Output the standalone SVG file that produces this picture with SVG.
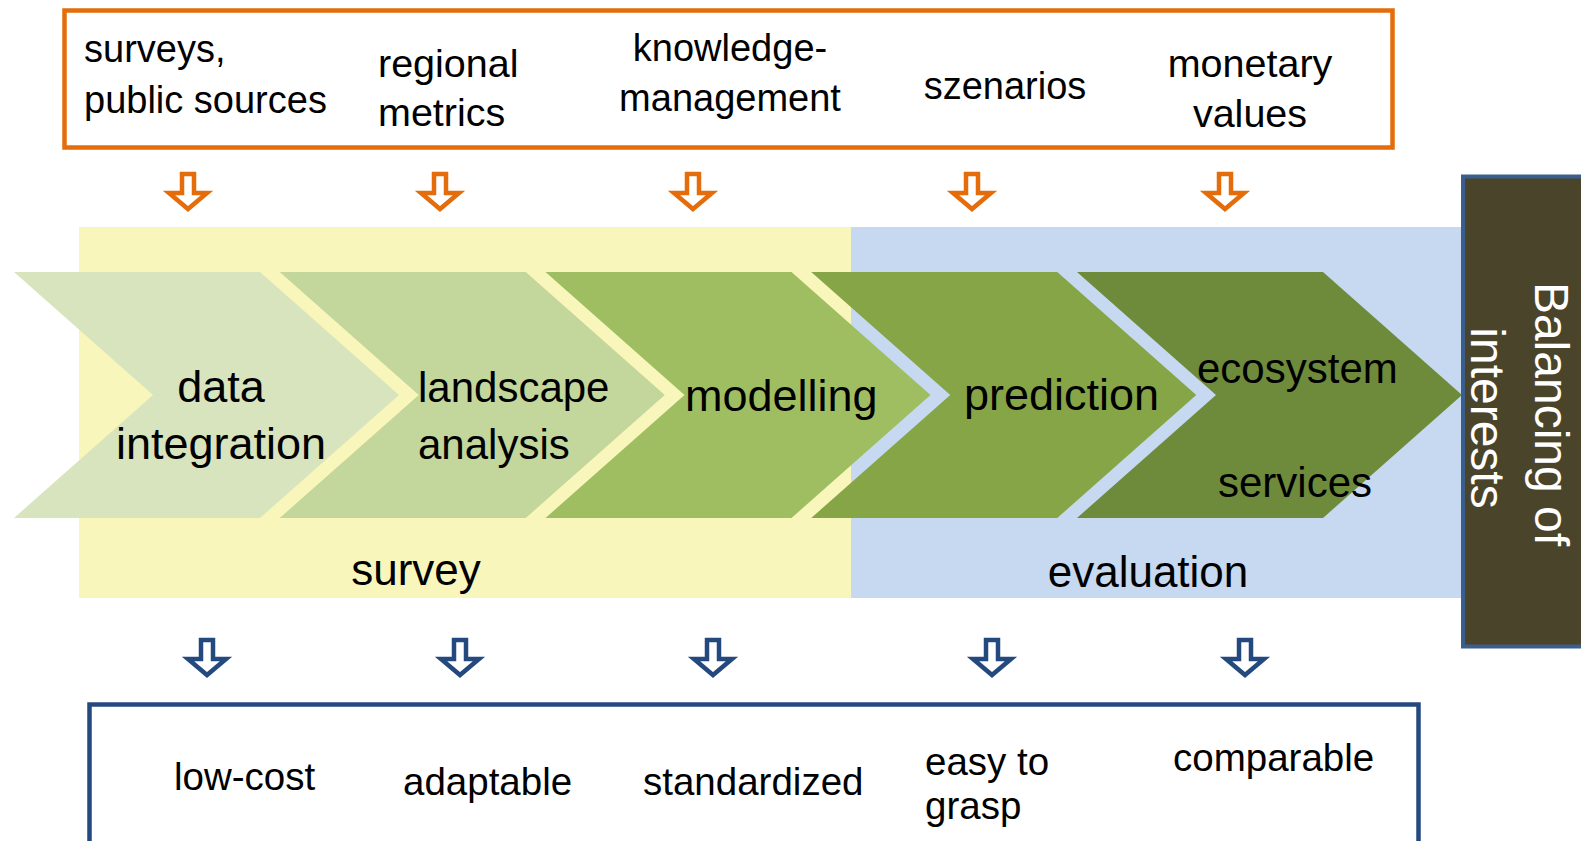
<svg xmlns="http://www.w3.org/2000/svg" width="1581" height="841" viewBox="0 0 1581 841">
<defs>
<style>
.t{font-family:"Liberation Sans",Arial,sans-serif;fill:#000;}
.top{font-size:38px;}
.top2{font-size:39.5px;}
.chv{font-size:45px;}
.chs{font-size:42px;}
.bnd{font-size:44px;}
.bot{font-size:38.5px;}
.oa{fill:#fff;stroke:#E46C0A;stroke-width:4.5;stroke-linejoin:miter;}
.ba{fill:#fff;stroke:#24497F;stroke-width:4.5;stroke-linejoin:miter;}
.bal{font-family:"Liberation Sans",Arial,sans-serif;font-size:48px;fill:#fff;}
</style>
<path id="arr" d="M-6,0 H6 V19 H19 L0,35 L-19,19 H-6 Z"/>
</defs>
<rect width="1581" height="841" fill="#fff"/>

<g id="bands">
<rect x="79" y="227" width="772" height="371" fill="#F9F6BB"/>
<rect x="851" y="227" width="611" height="371" fill="#C6D9F0"/>
<text class="t bnd" x="416" y="585" text-anchor="middle">survey</text>
<text class="t bnd" x="1148" y="587" text-anchor="middle">evaluation</text>
</g>

<g id="inputs">
<rect x="64.5" y="10.5" width="1328" height="137" fill="#fff" stroke="#E46C0A" stroke-width="4.5"/>
<text class="t top" x="84" y="62">surveys,</text>
<text class="t top" x="84" y="113">public sources</text>
<text class="t top2" x="378" y="77">regional</text>
<text class="t top2" x="378" y="126">metrics</text>
<text class="t top" x="730" y="61" text-anchor="middle">knowledge-</text>
<text class="t top" x="730" y="111" text-anchor="middle">management</text>
<text class="t top" x="1005" y="99" text-anchor="middle">szenarios</text>
<text class="t top2" x="1250" y="77" text-anchor="middle">monetary</text>
<text class="t top2" x="1250" y="127" text-anchor="middle">values</text>
</g>

<g id="connectors">
<use href="#arr" class="oa" x="188" y="174"/>
<use href="#arr" class="oa" x="440" y="174"/>
<use href="#arr" class="oa" x="693" y="174"/>
<use href="#arr" class="oa" x="972" y="174"/>
<use href="#arr" class="oa" x="1225" y="174"/>
<use href="#arr" class="ba" x="207" y="640"/>
<use href="#arr" class="ba" x="460" y="640"/>
<use href="#arr" class="ba" x="713" y="640"/>
<use href="#arr" class="ba" x="992" y="640"/>
<use href="#arr" class="ba" x="1245" y="640"/>
</g>

<g id="chevron-data-integration">
<polygon points="14,272 260,272 399,395 260,518 14,518 153,395" fill="#D7E4BD"/>
<text class="t chv" x="221" y="402" text-anchor="middle">data</text>
<text class="t chv" x="221" y="459" text-anchor="middle">integration</text>
</g>
<g id="chevron-landscape-analysis">
<polygon points="279.75,272 525.75,272 664.75,395 525.75,518 279.75,518 418.75,395" fill="#C3D69B"/>
<text class="t chs" x="418" y="402">landscape</text>
<text class="t chs" x="418" y="459">analysis</text>
</g>
<g id="chevron-modelling">
<polygon points="545.5,272 791.5,272 930.5,395 791.5,518 545.5,518 684.5,395" fill="#9FBE61"/>
<text class="t chv" x="685" y="411">modelling</text>
</g>
<g id="chevron-prediction">
<polygon points="811.25,272 1057.25,272 1196.25,395 1057.25,518 811.25,518 950.25,395" fill="#85A546"/>
<text class="t chv" x="964" y="410">prediction</text>
</g>
<g id="chevron-ecosystem-services">
<polygon points="1077,272 1323,272 1462,395 1323,518 1077,518 1216,395" fill="#6E8B3B"/>
<text class="t chs" x="1197" y="383">ecosystem</text>
<text class="t chs" x="1218" y="497">services</text>
</g>

<g id="balancing">
<rect x="1463" y="176.5" width="124" height="470" fill="#4A442A" stroke="#3A5F8E" stroke-width="4"/>
<text class="bal" transform="translate(1535,414) rotate(90)" text-anchor="middle">Balancing of</text>
<text class="bal" transform="translate(1471,418) rotate(90)" text-anchor="middle">interests</text>
</g>

<g id="outputs">
<rect x="89.5" y="704.5" width="1329" height="150" fill="#fff" stroke="#24497F" stroke-width="4.5"/>
<text class="t bot" x="174" y="790">low-cost</text>
<text class="t bot" x="403" y="795">adaptable</text>
<text class="t bot" x="643" y="795">standardized</text>
<text class="t bot" x="925" y="775">easy to</text>
<text class="t bot" x="925" y="819">grasp</text>
<text class="t bot" x="1173" y="771">comparable</text>
</g>
</svg>
